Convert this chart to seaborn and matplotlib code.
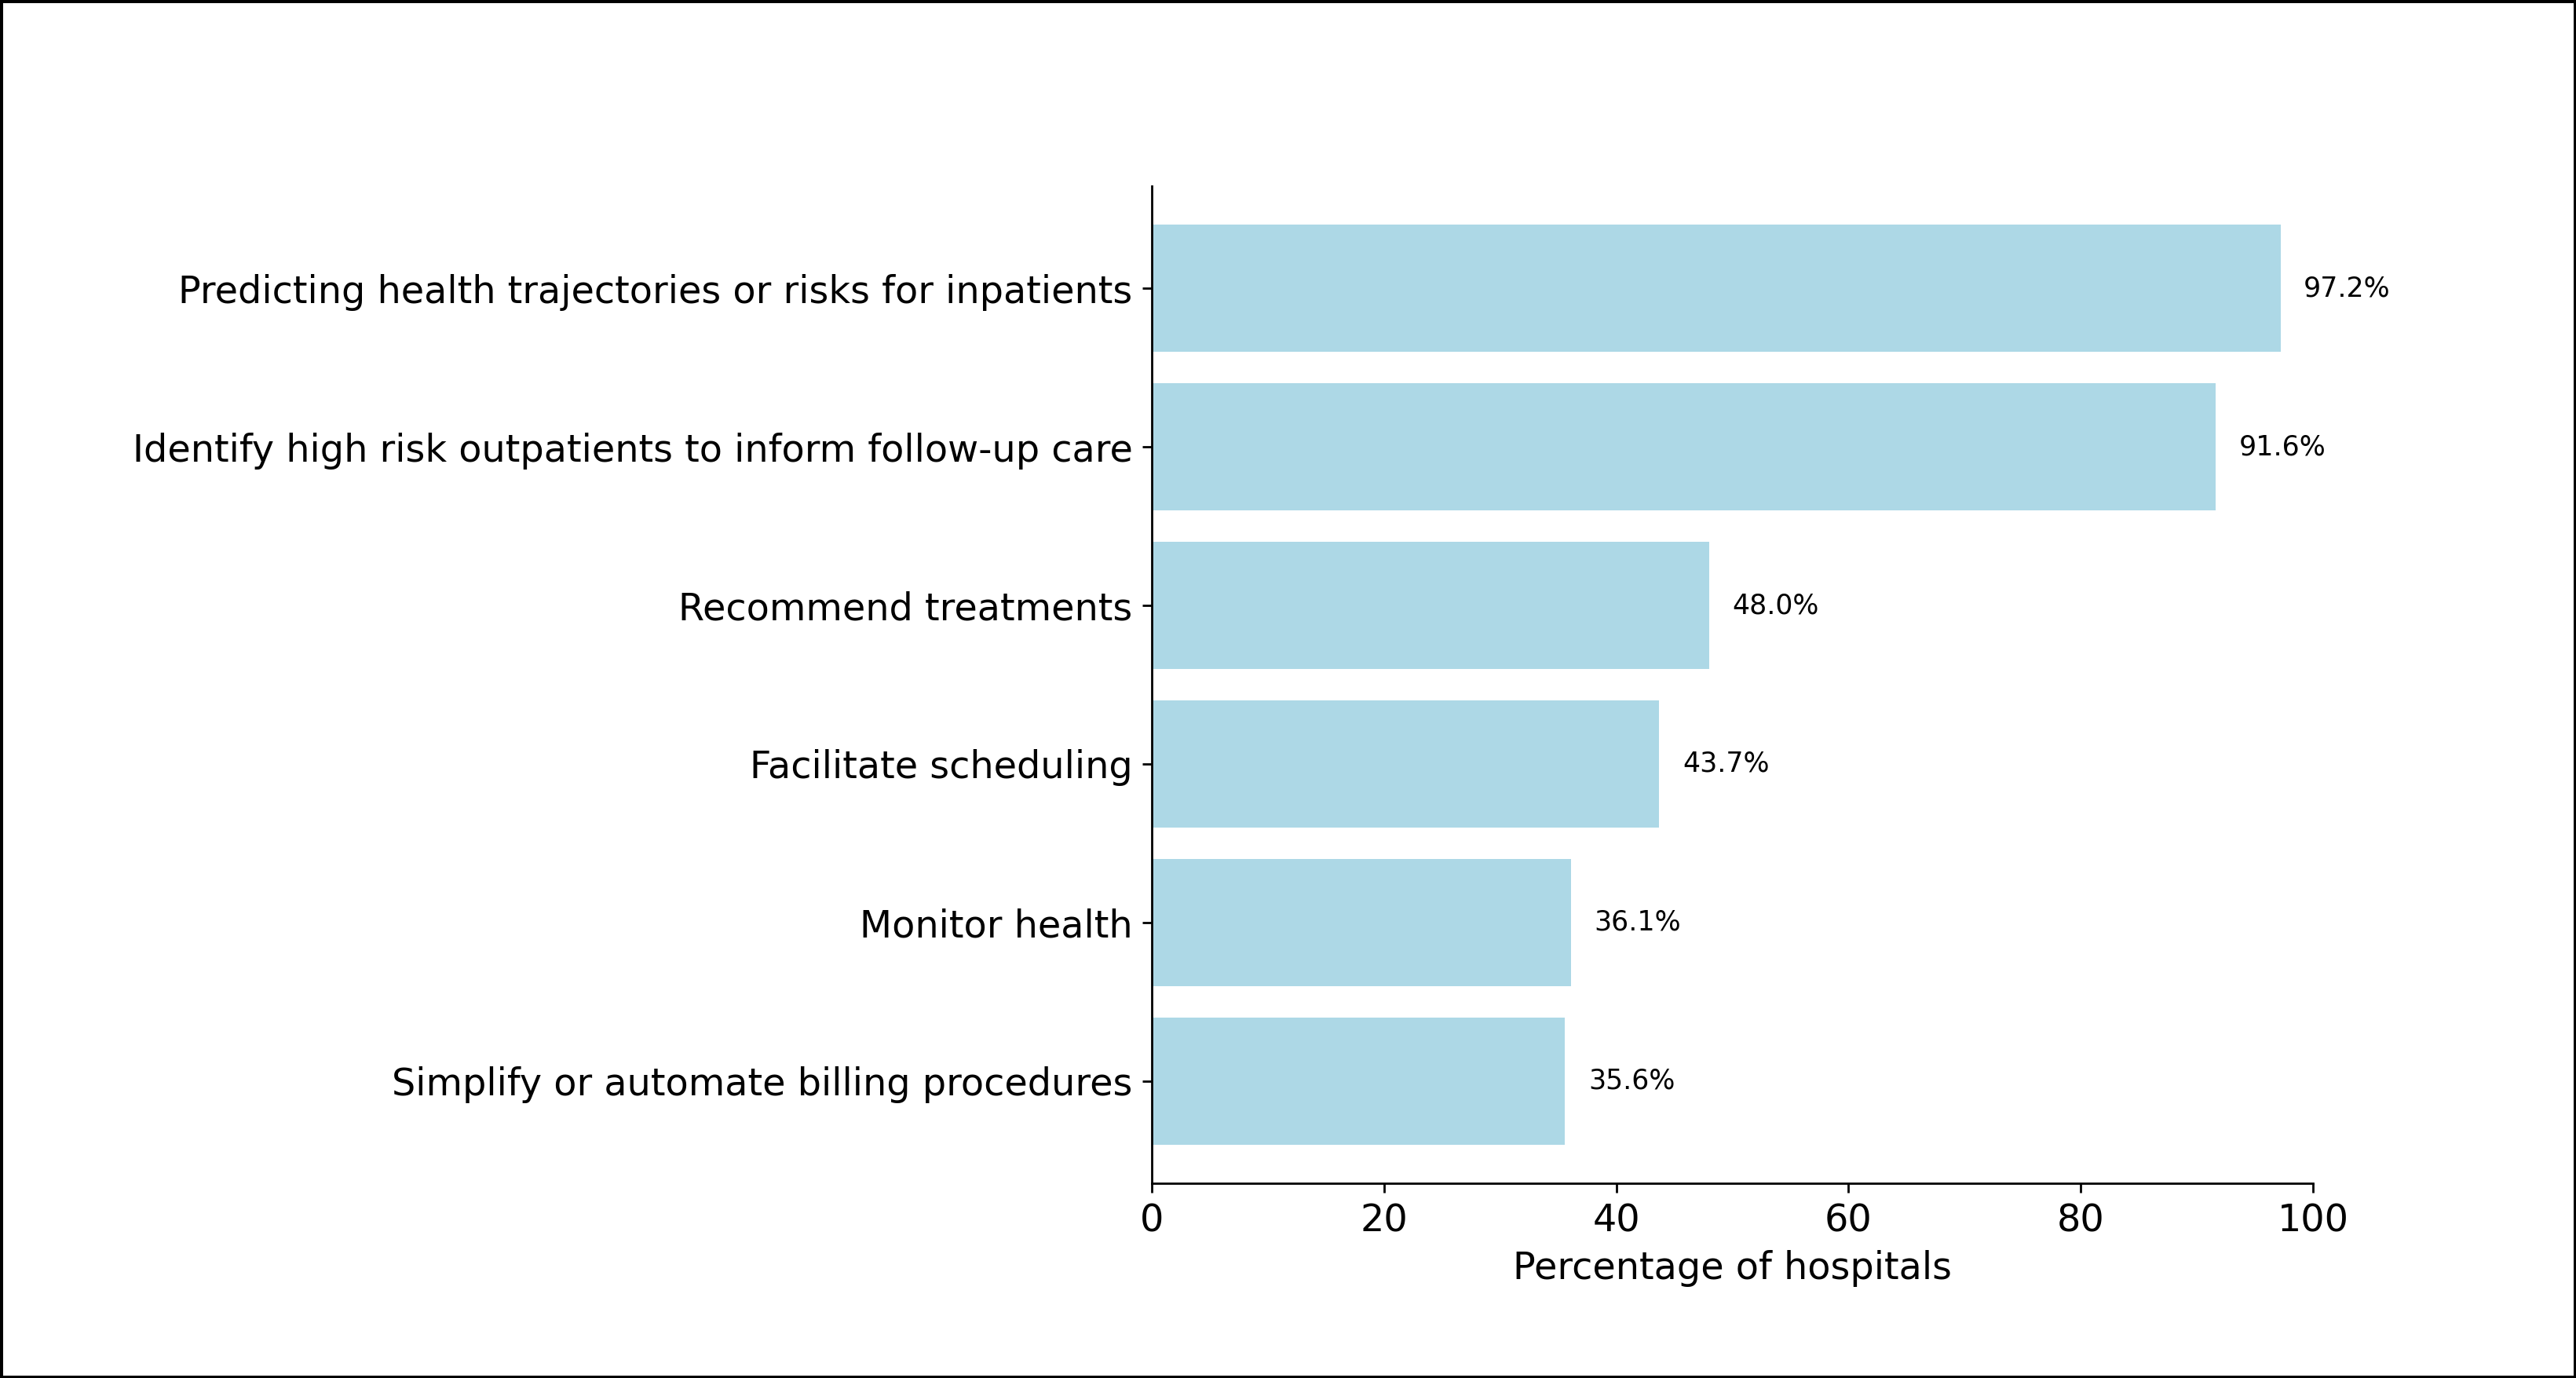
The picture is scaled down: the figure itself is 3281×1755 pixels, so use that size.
import numpy as np
import matplotlib
matplotlib.use("Agg")
import matplotlib.pyplot as plt
import seaborn as sns
import pandas as pd

# uses of predictive models in hospitals
uses = [
    "Predicting health trajectories or risks for inpatients",
    "Identify high risk outpatients to inform follow-up care",
    "Recommend treatments",
    "Facilitate scheduling",
    "Monitor health",
    "Simplify or automate billing procedures",
]
pct = [97.2, 91.6, 48.0, 43.7, 36.1, 35.6]

df = pd.DataFrame({"use": uses, "pct": pct})

fig = plt.figure(figsize=(13.124, 7.02), dpi=250)
fig.patch.set_edgecolor("black")
fig.patch.set_linewidth(1.5)
ax = fig.add_axes([0.4471, 0.1413, 0.4508, 0.7237])

sns.barplot(data=df, x="pct", y="use", orient="h", color="lightblue",
            saturation=1, width=0.8, linewidth=0, ax=ax)

# value labels next to bars
for i, v in enumerate(pct):
    ax.text(v + 2, i, f"{v:.1f}%", va="center", ha="left", fontsize=10)

ax.set_xlim(0, 100)
ax.set_ylim(5.645, -0.645)
ax.set_xticks([0, 20, 40, 60, 80, 100])
ax.set_xlabel("Percentage of hospitals", fontsize=13.75)
ax.set_ylabel("")
ax.tick_params(axis="both", labelsize=13.75)
sns.despine(ax=ax)

fig.savefig("out.png", dpi=250, edgecolor=fig.get_edgecolor())
